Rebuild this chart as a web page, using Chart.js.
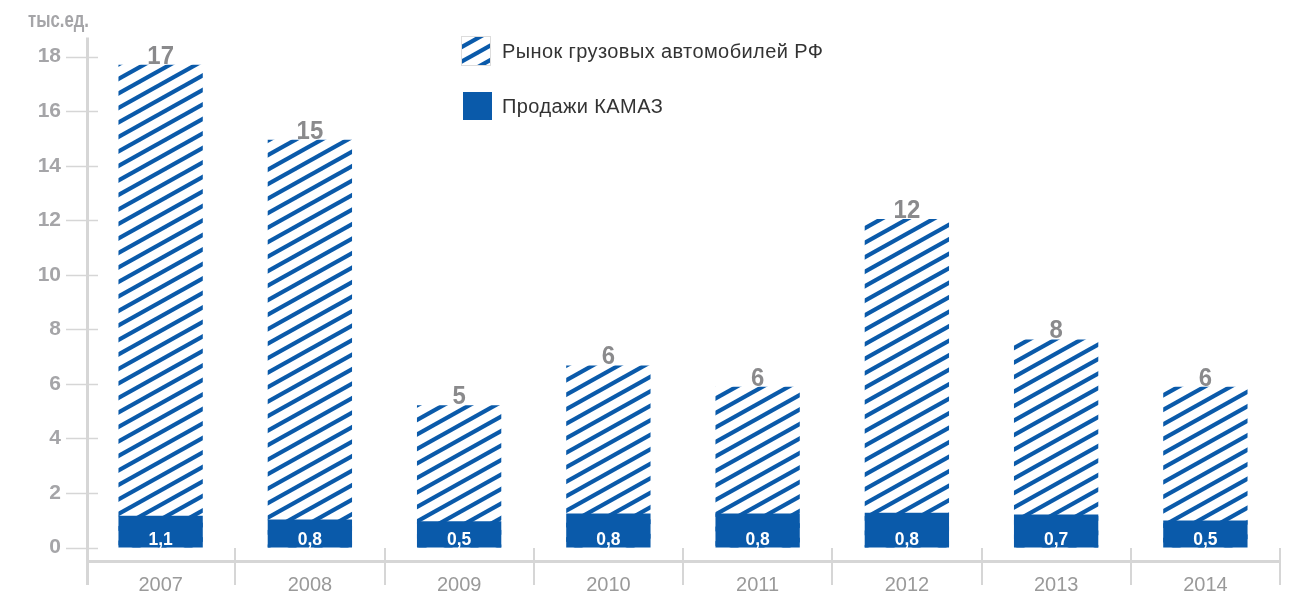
<!DOCTYPE html>
<html>
<head>
<meta charset="utf-8">
<script src="https://cdn.jsdelivr.net/npm/chart.js@4.4.1/dist/chart.umd.min.js"></script>
<style>
	html, body { margin: 0; padding: 0; background: #fff; }
	#wrap { position: relative; width: 1300px; height: 598px; }
</style>
</head>
<body>
<div id="wrap"><canvas id="chart" width="1300" height="598"></canvas></div>
<script>
// values (bar heights) and the printed labels
const years = ['2007', '2008', '2009', '2010', '2011', '2012', '2013', '2014']
const marketValues = [17.7, 14.95, 5.22, 6.68, 5.9, 12.05, 7.63, 5.9]
const marketLabels = ['17', '15', '5', '6', '6', '12', '8', '6']
const kamazValues = [1.17, 1.03, 0.97, 1.25, 1.25, 1.28, 1.21, 0.99]
const kamazLabels = ['1,1', '0,8', '0,5', '0,8', '0,8', '0,8', '0,7', '0,5']
const yTicks = [0, 2, 4, 6, 8, 10, 12, 14, 16, 18]

const unitTitle = 'тыс.ед.'
const marketName = 'Рынок грузовых автомобилей РФ'
const kamazName = 'Продажи КАМАЗ'

const BLUE = '#0a5aaa'
const AXIS = '#d6d6d6'
const plain = '"Liberation Sans", Arial, sans-serif'

function hatchPattern(ctx) {
	// tile drawn at 2x, then scaled down so the stripe period can be fractional
	const tile = document.createElement('canvas')
	tile.width = 52
	tile.height = 29
	const t = tile.getContext('2d')
	t.strokeStyle = BLUE
	t.lineWidth = 8.4
	for (let n = -1; n <= 1; n++) {
		t.beginPath()
		t.moveTo(-10, 29 + n * 29 + 10 * 29 / 52)
		t.lineTo(62, n * 29 - 10 * 29 / 52)
		t.stroke()
	}
	const p = ctx.createPattern(tile, 'repeat')
	p.setTransform(new DOMMatrix().scale(0.5))
	return p
}

// narrow text: draw squeezed horizontally
function narrowText(ctx, text, x, y, squeeze) {
	ctx.save()
	ctx.translate(x, y)
	ctx.scale(squeeze, 1)
	ctx.fillText(text, 0, 0)
	ctx.restore()
}

const chartElem = document.getElementById('chart').getContext('2d')
const hatch = hatchPattern(chartElem)

const decor = {
	id: 'decor',
	beforeDatasetsDraw(chart) {
		const ctx = chart.ctx
		const x = chart.scales.x
		const y = chart.scales.y
		const area = chart.chartArea
		ctx.save()
		ctx.strokeStyle = AXIS
		// y ticks
		ctx.lineWidth = 1.5
		yTicks.forEach(v => {
			const py = Math.round(y.getPixelForValue(v)) + 0.5
			ctx.beginPath()
			ctx.moveTo(66, py)
			ctx.lineTo(area.left + 12, py)
			ctx.stroke()
		})
		// y axis line
		ctx.lineWidth = 3
		ctx.beginPath()
		ctx.moveTo(area.left + 1.5, area.top)
		ctx.lineTo(area.left + 1.5, 585)
		ctx.stroke()
		// x axis line
		ctx.beginPath()
		ctx.moveTo(area.left, area.bottom + 1)
		ctx.lineTo(area.right, area.bottom + 1)
		ctx.stroke()
		// category separators
		ctx.lineWidth = 2
		for (let i = 0; i < years.length; i++) {
			const sx = i < years.length - 1 ? (x.getPixelForValue(i) + x.getPixelForValue(i + 1)) / 2 : area.right
			ctx.beginPath()
			ctx.moveTo(Math.round(sx), 548)
			ctx.lineTo(Math.round(sx), 585)
			ctx.stroke()
		}
		ctx.restore()
	},
	afterDatasetsDraw(chart) {
		const ctx = chart.ctx
		const y = chart.scales.y
		const blueMeta = chart.getDatasetMeta(0)
		const marketMeta = chart.getDatasetMeta(1)
		ctx.save()
		ctx.textAlign = 'center'
		ctx.textBaseline = 'alphabetic'
		// totals above the hatched bars
		ctx.fillStyle = '#8a8a8c'
		ctx.font = 'bold 26px ' + plain
		marketMeta.data.forEach((bar, i) => {
			narrowText(ctx, marketLabels[i], bar.x, bar.y - 1, 0.92)
		})
		// KAMAZ values inside the blue bars
		ctx.fillStyle = '#ffffff'
		ctx.font = 'bold 19px ' + plain
		blueMeta.data.forEach((bar, i) => {
			narrowText(ctx, kamazLabels[i], bar.x, y.getPixelForValue(0) - 3, 0.92)
		})
		// unit title
		ctx.textAlign = 'left'
		ctx.fillStyle = '#a5a5a8'
		ctx.font = 'bold 22px ' + plain
		narrowText(ctx, unitTitle, 28, 27, 0.76)
		// legend
		ctx.fillStyle = hatch
		ctx.fillRect(462, 37, 28, 28)
		ctx.strokeStyle = '#dcdcdc'
		ctx.lineWidth = 1
		ctx.strokeRect(461.5, 36.5, 29, 29)
		ctx.fillStyle = BLUE
		ctx.fillRect(463, 92, 29, 28)
		ctx.fillStyle = '#333333'
		ctx.font = '20px ' + plain
		ctx.letterSpacing = '0.4px'
		ctx.textBaseline = 'middle'
		ctx.fillText(marketName, 502, 52)
		ctx.fillText(kamazName, 502, 107)
		ctx.restore()
	}
}

const barChart = new Chart(chartElem, {
	type: 'bar',
	data: {
		labels: years,
		datasets: [
			{
				label: kamazName,
				data: kamazValues,
				backgroundColor: BLUE,
				order: 0,
				barPercentage: 0.565,
				categoryPercentage: 1
			},
			{
				label: marketName,
				data: marketValues,
				backgroundColor: hatch,
				order: 1,
				barPercentage: 0.565,
				categoryPercentage: 1
			}
		]
	},
	options: {
		responsive: false,
		animation: false,
		layout: { padding: { top: 37, right: 20, bottom: 0, left: 0 } },
		plugins: {
			legend: { display: false },
			tooltip: { enabled: false }
		},
		scales: {
			x: {
				stacked: true,
				grid: { display: false, drawTicks: false },
				border: { display: false },
				ticks: { color: '#9a9a9a', font: { family: plain, size: 20 }, padding: 13 },
				afterFit: function(scale) { scale.height = 35 }
			},
			y: {
				stacked: false,
				min: -0.47,
				max: 18.7,
				afterBuildTicks: function(scale) { scale.ticks = yTicks.map(v => ({ value: v })) },
				grid: { display: false, drawTicks: false },
				border: { display: false },
				ticks: { color: '#a5a5a8', font: { family: plain, size: 21, weight: 'bold' }, padding: 25 },
				afterFit: function(scale) { scale.width = 86 }
			}
		}
	},
	plugins: [decor]
})
</script>
</body>
</html>
